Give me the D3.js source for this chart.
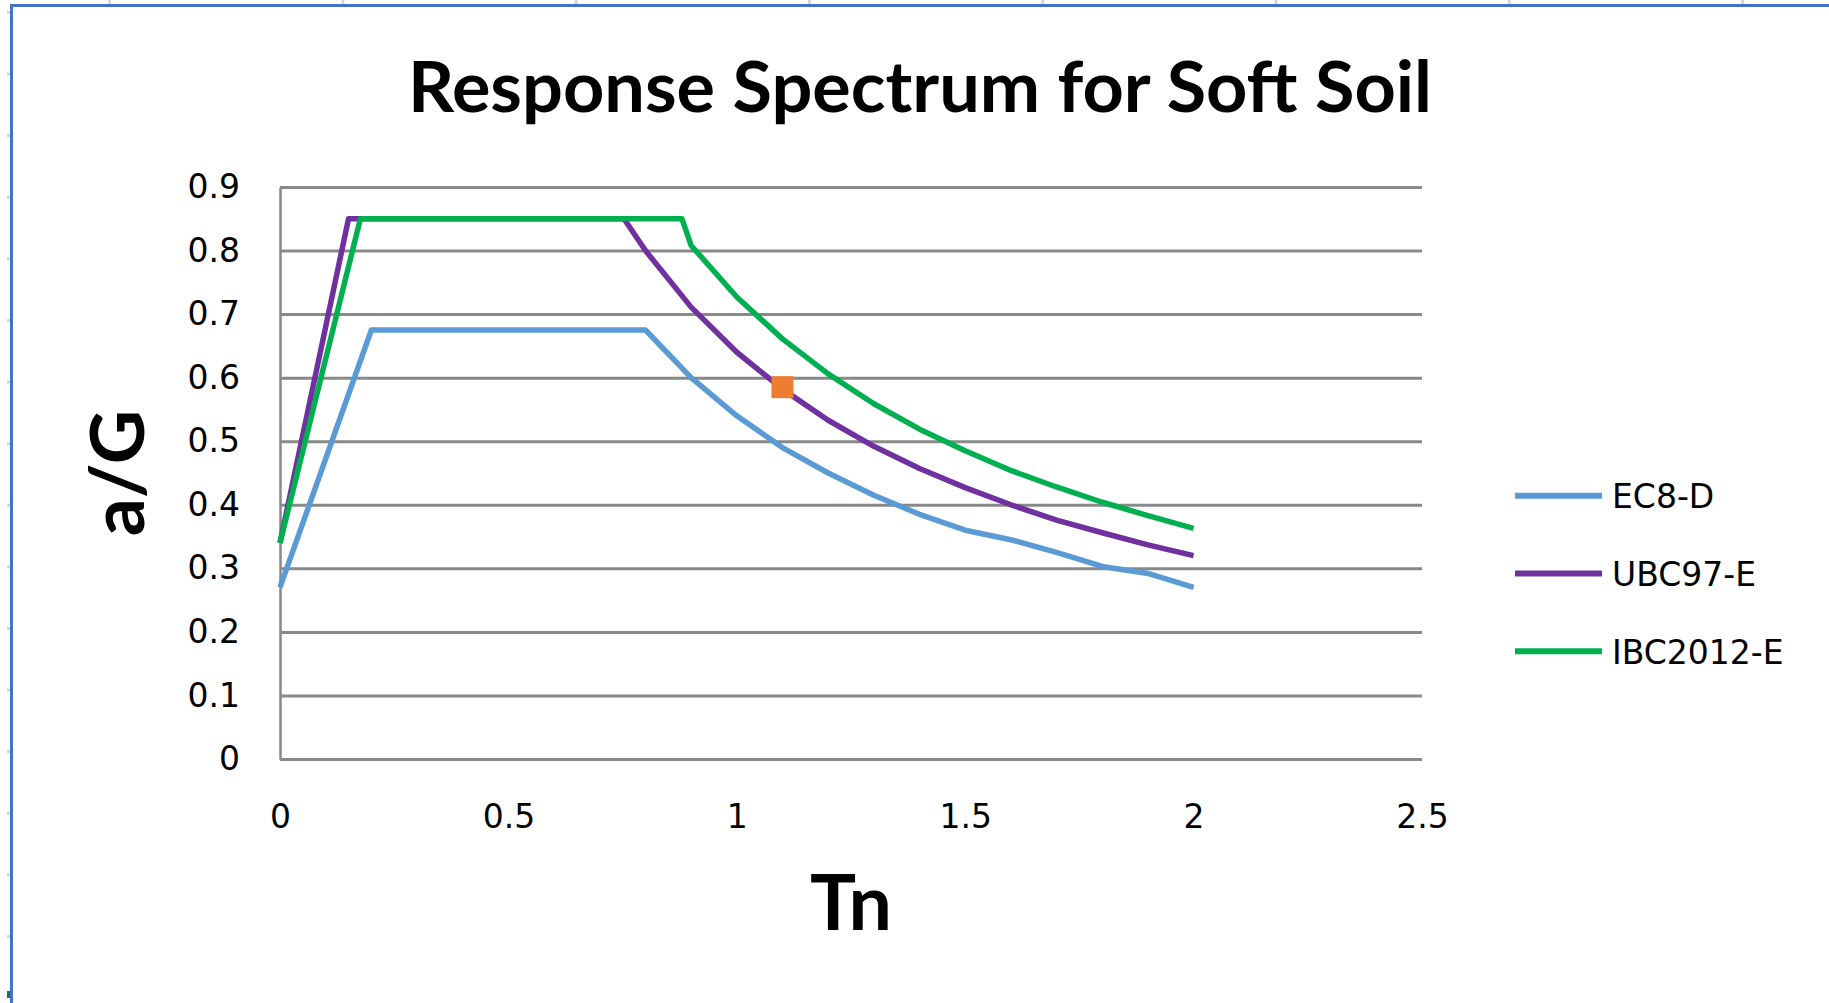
<!DOCTYPE html>
<html>
<head>
<meta charset="utf-8">
<script src="https://cdn.jsdelivr.net/npm/d3@7"></script>
<style>
    html, body { margin: 0; padding: 0; background: #fff; }
    svg { display: block; }
</style>
</head>
<body>
<div class="container"></div>
<script>
// period values (Tn) and spectral accelerations (a/G) for every code
const ec8T  = [0, 0.2, 0.8, 0.9, 1.0, 1.1, 1.2, 1.3, 1.4, 1.5, 1.6, 1.7, 1.8, 1.9, 2.0];
const ec8Sa = [0.27, 0.675, 0.675, 0.60, 0.54, 0.49, 0.45, 0.415, 0.385, 0.36, 0.345, 0.325, 0.303, 0.292, 0.27];

const ubcT  = [0, 0.15, 0.753, 0.8, 0.9, 1.0, 1.1, 1.2, 1.3, 1.4, 1.5, 1.6, 1.7, 1.8, 1.9, 2.0];
const ubcSa = [0.34, 0.85, 0.85, 0.80, 0.711, 0.64, 0.582, 0.533, 0.492, 0.457, 0.427, 0.40, 0.376, 0.356, 0.337, 0.32];

const ibcT  = [0, 0.176, 0.88, 0.9, 1.0, 1.1, 1.2, 1.3, 1.4, 1.5, 1.6, 1.7, 1.8, 1.9, 2.0];
const ibcSa = [0.34, 0.85, 0.85, 0.808, 0.727, 0.661, 0.606, 0.559, 0.519, 0.485, 0.454, 0.428, 0.404, 0.383, 0.363];

// single highlighted point (not in the legend)
const markerT  = [1.1];
const markerSa = [0.585];

const seriesNames = ["EC8-D", "UBC97-E", "IBC2012-E"];
const xTicks = [0, 0.5, 1, 1.5, 2, 2.5];
const yTicks = [0, 0.1, 0.2, 0.3, 0.4, 0.5, 0.6, 0.7, 0.8, 0.9];

const w = 1829;
const h = 1003;

const svg = d3.select(".container")
    .append("svg")
    .attr("width", w)
    .attr("height", h);

/* sheet frame (blue selection border + faint cell marks) */
const frame = svg.append("g");
d3.range(8).forEach(i => {
    frame.append("rect").attr("x", 108 + i * 233.3).attr("y", 0).attr("width", 3).attr("height", 4).attr("fill", "#d6d6d6");
});
d3.range(16).forEach(i => {
    frame.append("rect").attr("x", 7).attr("y", 11 + i * 61.6).attr("width", 3).attr("height", 3).attr("fill", "#d6d6d6");
});
frame.append("rect").attr("x", 7).attr("y", 991).attr("width", 3).attr("height", 7).attr("fill", "#217346");
frame.append("rect").attr("x", 10).attr("y", 4).attr("width", w - 10).attr("height", 3).attr("fill", "#4472c4");
frame.append("rect").attr("x", 10).attr("y", 4).attr("width", 3).attr("height", h - 4).attr("fill", "#4472c4");

/* scales */
const x = d3.scaleLinear().domain([0, 2.5]).range([280, 1422]);
const y = d3.scaleLinear().domain([0, 0.9]).range([759, 187]);

// y axis: labels + horizontal gridlines + the vertical axis line
const yAxis = d3.axisLeft(y)
    .tickValues(yTicks)
    .tickFormat(d3.format("~g"))
    .tickSize(-(1422 - 280))
    .tickSizeOuter(0)
    .tickPadding(40);

const gy = svg.append("g")
    .attr("transform", "translate(280, 0)")
    .call(yAxis);
gy.select(".domain").attr("stroke", "#898989").attr("stroke-width", 2.5);
gy.selectAll(".tick line").attr("stroke", "#898989").attr("stroke-width", 3);
gy.selectAll(".tick text")
    .attr("fill", "#000")
    .style("font-family", "'DejaVu Sans', sans-serif")
    .style("font-size", "33px");

// x axis: labels only
const xAxis = d3.axisBottom(x)
    .tickValues(xTicks)
    .tickFormat(d3.format("~g"))
    .tickSize(0)
    .tickPadding(46);

const gx = svg.append("g")
    .attr("transform", "translate(0, 759)")
    .call(xAxis);
gx.select(".domain").remove();
gx.selectAll(".tick text")
    .attr("fill", "#000")
    .style("font-family", "'DejaVu Sans', sans-serif")
    .style("font-size", "33px");

/* series lines */
const colors = ["#5b9bd5", "#7030a0", "#00b050"];
const series = [
    d3.zip(ec8T, ec8Sa),
    d3.zip(ubcT, ubcSa),
    d3.zip(ibcT, ibcSa)
];

const line = d3.line()
    .x(d => x(d[0]))
    .y(d => y(d[1]));

svg.append("g")
    .selectAll("path")
    .data(series)
    .enter()
    .append("path")
    .attr("d", line)
    .attr("fill", "none")
    .attr("stroke", (d, i) => colors[i])
    .attr("stroke-width", 5.5)
    .attr("stroke-linejoin", "round");

// orange marker
const ms = 22;
svg.append("g")
    .selectAll("rect")
    .data(d3.zip(markerT, markerSa))
    .enter()
    .append("rect")
    .attr("x", d => x(d[0]) - ms / 2)
    .attr("y", d => y(d[1]) - ms / 2)
    .attr("width", ms)
    .attr("height", ms)
    .attr("fill", "#ed7d31");

/* legend */
const legend = svg.append("g")
    .selectAll("g")
    .data(seriesNames)
    .enter()
    .append("g")
    .attr("transform", (d, i) => `translate(1515, ${495.7 + i * 77.8})`);
legend.append("line")
    .attr("x1", 0).attr("x2", 87)
    .attr("stroke", (d, i) => colors[i])
    .attr("stroke-width", 6);
legend.append("text")
    .attr("x", 97)
    .attr("y", 12.5)
    .attr("fill", "#000")
    .style("font-family", "'DejaVu Sans', sans-serif")
    .style("font-size", "33px")
    .text(d => d);

/* titles */
svg.append("text")
    .attr("x", 920)
    .attr("y", 112)
    .attr("text-anchor", "middle")
    .attr("textLength", 1024)
    .attr("lengthAdjust", "spacingAndGlyphs")
    .style("font-family", "Lato, sans-serif")
    .style("font-weight", 700)
    .style("font-size", "70px")
    .text("Response Spectrum for Soft Soil");

svg.append("text")
    .attr("x", 851)
    .attr("y", 930)
    .attr("text-anchor", "middle")
    .style("font-family", "Lato, sans-serif")
    .style("font-weight", 700)
    .style("font-size", "77px")
    .text("Tn");

svg.append("text")
    .attr("transform", "translate(144, 473) rotate(-90)")
    .attr("text-anchor", "middle")
    .style("font-family", "Lato, sans-serif")
    .style("font-weight", 700)
    .style("font-size", "75px")
    .text("a/G");
</script>
</body>
</html>
